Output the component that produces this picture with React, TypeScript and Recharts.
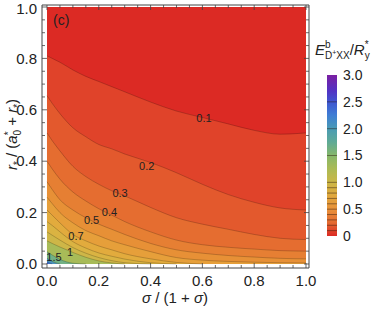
import React from 'react';
import { ComposedChart, Area, Line, Scatter, XAxis, YAxis, ReferenceLine } from 'recharts';

// x positions (sigma/(1+sigma)) at which contour heights were read
const sigmaX = [0, 0.02, 0.05, 0.1, 0.15, 0.2, 0.25, 0.3, 0.4, 0.5, 0.6, 0.7, 0.8, 0.9, 1.0];
// upper edge of the plotted region (everything below has value >= 0)
const topEdge = [1, 1, 1, 1, 1, 1, 1, 1, 1, 1, 1, 1, 1, 1, 1];
// contour heights r*/(a0*+r*) for each level
const c01 = [0.81, 0.8, 0.785, 0.755, 0.73, 0.71, 0.69, 0.67, 0.63, 0.595, 0.57, 0.545, 0.52, 0.505, 0.51];
const c02 = [0.655, 0.625, 0.585, 0.53, 0.495, 0.465, 0.448, 0.428, 0.395, 0.355, 0.31, 0.27, 0.24, 0.218, 0.21];
const c03 = [0.51, 0.48, 0.44, 0.38, 0.34, 0.31, 0.285, 0.265, 0.22, 0.18, 0.155, 0.135, 0.115, 0.1, 0.095];
const c04 = [0.4, 0.37, 0.33, 0.28, 0.245, 0.215, 0.19, 0.165, 0.125, 0.093, 0.075, 0.065, 0.058, 0.052, 0.05];
const c05 = [0.32, 0.29, 0.25, 0.21, 0.18, 0.155, 0.135, 0.115, 0.08, 0.055, 0.042, 0.033, 0.027, 0.022, 0.02];
const c06 = [0.26, 0.235, 0.2, 0.16, 0.13, 0.11, 0.09, 0.075, 0.048, 0.025, 0.015, 0.01, 0.007, 0.005, 0.004];
const c07 = [0.21, 0.19, 0.16, 0.115, 0.09, 0.07, 0.055, 0.04, 0.02, 0.006, 0, 0, 0, 0, 0];
const c08 = [0.165, 0.15, 0.125, 0.087, 0.062, 0.043, 0.03, 0.019, 0.005, 0, 0, 0, 0, 0, 0];
const c09 = [0.125, 0.112, 0.093, 0.064, 0.042, 0.025, 0.013, 0.005, 0, 0, 0, 0, 0, 0, 0];
const c10 = [0.09, 0.08, 0.066, 0.045, 0.026, 0.012, 0.004, 0, 0, 0, 0, 0, 0, 0, 0];
const c15 = [0.048, 0.035, 0.018, 0.003, 0, 0, 0, 0, 0, 0, 0, 0, 0, 0, 0];
const c20 = [0.022, 0.01, 0, 0, 0, 0, 0, 0, 0, 0, 0, 0, 0, 0, 0];
const c25 = [0.009, 0, 0, 0, 0, 0, 0, 0, 0, 0, 0, 0, 0, 0, 0];

const contourLevels = [0.1, 0.2, 0.3, 0.4, 0.5, 0.6, 0.7, 0.8, 0.9, 1.0, 1.5, 2.0, 2.5];
const contourYs = [c01, c02, c03, c04, c05, c06, c07, c08, c09, c10, c15, c20, c25];
// band colours: index 0 = below 0.1, index k = above level k
const bandColors = [
  '#dc2a24', '#e0432a', '#e3592d', '#e56d30', '#e67f33', '#e79036', '#e69f3a',
  '#e2ab3d', '#dab342', '#ceb647', '#a8bb58', '#72b184', '#4b93bd', '#3d68d2',
];

const contourLabels = [
  { x: 0.606, y: 0.568, t: '0.1' },
  { x: 0.385, y: 0.379, t: '0.2' },
  { x: 0.282, y: 0.277, t: '0.3' },
  { x: 0.241, y: 0.2, t: '0.4' },
  { x: 0.172, y: 0.169, t: '0.5' },
  { x: 0.112, y: 0.109, t: '0.7' },
  { x: 0.089, y: 0.048, t: '1' },
  { x: 0.027, y: 0.025, t: '1.5' },
];

const axisTicks = [0, 0.05, 0.1, 0.15, 0.2, 0.25, 0.3, 0.35, 0.4, 0.45, 0.5, 0.55, 0.6, 0.65, 0.7, 0.75, 0.8, 0.85, 0.9, 0.95, 1.0];
// colour bar: value range and tick labels
const barRange = [
  { x: 0, lo: 0, hi: 3 },
  { x: 1, lo: 0, hi: 3 },
];
const barTicks = [0, 0.5, 1, 1.5, 2, 2.5, 3];
const barTickLabels = ['0', '0.5', '1.0', '1.5', '2.0', '2.5', '3.0'];

const FONT = '"Liberation Sans", Arial, sans-serif';
const FRAME = '#444';
const TEXT = '#222';
const LINE = 'rgba(0,0,0,0.2)';

const rows = sigmaX.map((x, i) => {
  const r: any = { x, l0: topEdge[i] };
  contourYs.forEach((arr, k) => {
    r['l' + (k + 1)] = arr[i];
    const prev = i > 0 ? arr[i - 1] : 1;
    r['s' + (k + 1)] = arr[i] > 0 || prev > 0 ? arr[i] : null;
  });
  return r;
});

const isMajor = (v: number) => Math.abs(v * 5 - Math.round(v * 5)) < 1e-6;

const BottomTick = (p: any) => {
  const v = p.payload.value;
  const M = isMajor(v);
  return (
    <g>
      <line x1={p.x} x2={p.x} y1={268} y2={268 - (M ? 5 : 3)} stroke={FRAME} strokeWidth={0.8} />
      {M && (
        <text x={p.x} y={286} textAnchor="middle" fontSize={15} fontFamily={FONT} fill={TEXT}>
          {v.toFixed(1)}
        </text>
      )}
    </g>
  );
};
const TopTick = (p: any) => {
  const M = isMajor(p.payload.value);
  return <line x1={p.x} x2={p.x} y1={5} y2={5 + (M ? 5 : 3)} stroke={FRAME} strokeWidth={0.8} />;
};
const LeftTick = (p: any) => {
  const v = p.payload.value;
  const M = isMajor(v);
  const ty = Math.max(p.y + 5.2, 13.8);
  return (
    <g>
      <line x1={42} x2={42 + (M ? 5 : 3)} y1={p.y} y2={p.y} stroke={FRAME} strokeWidth={0.8} />
      {M && (
        <text x={37} y={ty} textAnchor="end" fontSize={15} fontFamily={FONT} fill={TEXT}>
          {v.toFixed(1)}
        </text>
      )}
    </g>
  );
};
const RightTick = (p: any) => {
  const M = isMajor(p.payload.value);
  return <line x1={309} x2={309 - (M ? 5 : 3)} y1={p.y} y2={p.y} stroke={FRAME} strokeWidth={0.8} />;
};
const BarTick = (p: any) => {
  const idx = barTicks.indexOf(p.payload.value);
  return (
    <text x={26} y={p.y} dy="0.35em" textAnchor="start" fontSize={14} fontFamily={FONT} fill={TEXT}>
      {barTickLabels[idx]}
    </text>
  );
};

const LabelShape = (p: any) => (
  <text x={p.cx} y={p.cy} dy="0.35em" textAnchor="middle" fontSize={11} fontFamily={FONT} fill={TEXT}>
    {p.payload.t}
  </text>
);

const XDOM: [number, number] = [-0.0193, 1.0116];
const YDOM: [number, number] = [-0.0156, 1.0078];

export default function App() {
  return (
    <div style={{ position: 'absolute', left: 0, top: 0, width: 374, height: 310, background: '#fff' }}>
      <svg width={1} height={1} style={{ position: 'absolute', left: 0, top: 0 }}>
        <defs>
          <linearGradient id="cbGrad" x1="0" y1="0" x2="0" y2="1">
            <stop offset="0" stopColor="#7b1fa2" />
            <stop offset="0.1" stopColor="#5233c4" />
            <stop offset="0.1667" stopColor="#3f55d0" />
            <stop offset="0.25" stopColor="#3f7ed4" />
            <stop offset="0.3333" stopColor="#4a9bb4" />
            <stop offset="0.4167" stopColor="#5faa96" />
            <stop offset="0.5" stopColor="#86b76a" />
            <stop offset="0.5833" stopColor="#abba55" />
            <stop offset="0.6667" stopColor="#cbb647" />
            <stop offset="0.75" stopColor="#e0a83e" />
            <stop offset="0.8333" stopColor="#e8913a" />
            <stop offset="0.9167" stopColor="#e46a30" />
            <stop offset="1" stopColor="#dc2a24" />
          </linearGradient>
        </defs>
      </svg>

      <div style={{ position: 'absolute', left: 0, top: 0 }}>
        <ComposedChart width={374} height={310} data={rows} margin={{ top: 4, right: 64, bottom: 41, left: 41 }}>
          <XAxis
            type="number" dataKey="x" domain={XDOM} allowDataOverflow ticks={axisTicks} interval={0}
            height={1} tickSize={0} tickMargin={0} tickLine={false} tick={<BottomTick />}
            axisLine={{ stroke: FRAME, strokeWidth: 1 }}
          />
          <XAxis
            xAxisId="t" orientation="top" type="number" dataKey="x" domain={XDOM} allowDataOverflow ticks={axisTicks}
            interval={0} height={1} tickSize={0} tickMargin={0} tickLine={false} tick={<TopTick />}
            axisLine={{ stroke: FRAME, strokeWidth: 1 }}
          />
          <YAxis
            type="number" domain={YDOM} allowDataOverflow ticks={axisTicks} interval={0}
            width={1} tickSize={0} tickMargin={0} tickLine={false} tick={<LeftTick />}
            axisLine={{ stroke: FRAME, strokeWidth: 1 }}
          />
          <YAxis
            yAxisId="r" orientation="right" type="number" domain={YDOM} allowDataOverflow ticks={axisTicks} interval={0}
            width={1} tickSize={0} tickMargin={0} tickLine={false} tick={<RightTick />}
            axisLine={{ stroke: FRAME, strokeWidth: 1 }}
          />
          <Area dataKey="l0" type="monotone" baseValue={0} fill={bandColors[0]} fillOpacity={1} stroke="none" isAnimationActive={false} />
          {contourLevels.map((lv, k) => (
            <Area
              key={'a' + k} dataKey={'l' + (k + 1)} type="monotone" baseValue={0}
              fill={bandColors[k + 1]} fillOpacity={1} stroke="none" isAnimationActive={false}
            />
          ))}
          {contourLevels.map((lv, k) => (
            <Line
              key={'s' + k} dataKey={'s' + (k + 1)} type="monotone" stroke={LINE} strokeWidth={1}
              dot={false} activeDot={false} isAnimationActive={false}
            />
          ))}
          <Scatter data={contourLabels} dataKey="y" shape={<LabelShape />} isAnimationActive={false} />
        </ComposedChart>
      </div>

      <div style={{ position: 'absolute', left: 317, top: 60 }}>
        <ComposedChart width={57} height={200} data={barRange} margin={{ top: 15, right: 36, bottom: 23, left: 10 }}>
          <XAxis type="number" dataKey="x" domain={[0, 1]} height={1} tick={false} tickLine={false} axisLine={false} />
          <YAxis
            orientation="right" type="number" domain={[0, 3]} ticks={barTicks} interval={0} width={1}
            tickSize={0} tickMargin={0} tickLine={false} axisLine={false} tick={<BarTick />}
          />
          <Area
            dataKey="hi" type="linear" baseValue={0} fill="url(#cbGrad)" fillOpacity={1}
            stroke="none" isAnimationActive={false} activeDot={false}
          />
          {contourLevels.map((lv) => (
            <ReferenceLine key={'r' + lv} y={lv} stroke="rgba(40,20,10,0.45)" strokeWidth={1} />
          ))}
        </ComposedChart>
      </div>

      <svg width={374} height={310} style={{ position: 'absolute', left: 0, top: 0, pointerEvents: 'none' }} fontFamily={FONT}>
        <text x={53} y={25} fontSize={14} fill={TEXT}>(c)</text>
        <text x={175} y={303} textAnchor="middle" fontSize={15} fill={TEXT}>
          <tspan fontStyle="italic">σ</tspan>
          <tspan>{' / (1 + '}</tspan>
          <tspan fontStyle="italic">σ</tspan>
          <tspan>)</tspan>
        </text>
        <text transform="translate(17,134.5) rotate(-90)" textAnchor="middle" fontSize={15} fill={TEXT}>
          <tspan fontStyle="italic">r</tspan>
          <tspan fontSize={10} dy={4}>*</tspan>
          <tspan dy={-4}>{' / ('}</tspan>
          <tspan fontStyle="italic">a</tspan>
          <tspan fontSize={10} dy={-5}>*</tspan>
          <tspan fontSize={10} dx={-4} dy={9}>0</tspan>
          <tspan dy={-4}>{' + '}</tspan>
          <tspan fontStyle="italic">r</tspan>
          <tspan fontSize={10} dy={4}>*</tspan>
          <tspan dy={-4}>)</tspan>
        </text>
        <text x={315} y={55} fontSize={15} fill={TEXT}>
          <tspan fontStyle="italic">E</tspan>
          <tspan fontSize={10} dy={-7}>b</tspan>
          <tspan fontSize={10} dx={-5.6} dy={11}>D</tspan>
          <tspan fontSize={7} dy={-4}>+</tspan>
          <tspan fontSize={10} dy={4}>XX</tspan>
          <tspan dy={-4}>/</tspan>
          <tspan fontStyle="italic">R</tspan>
          <tspan fontSize={10} dy={-7}>*</tspan>
          <tspan fontSize={10} dx={-3.9} dy={11}>y</tspan>
        </text>
      </svg>
    </div>
  );
}
